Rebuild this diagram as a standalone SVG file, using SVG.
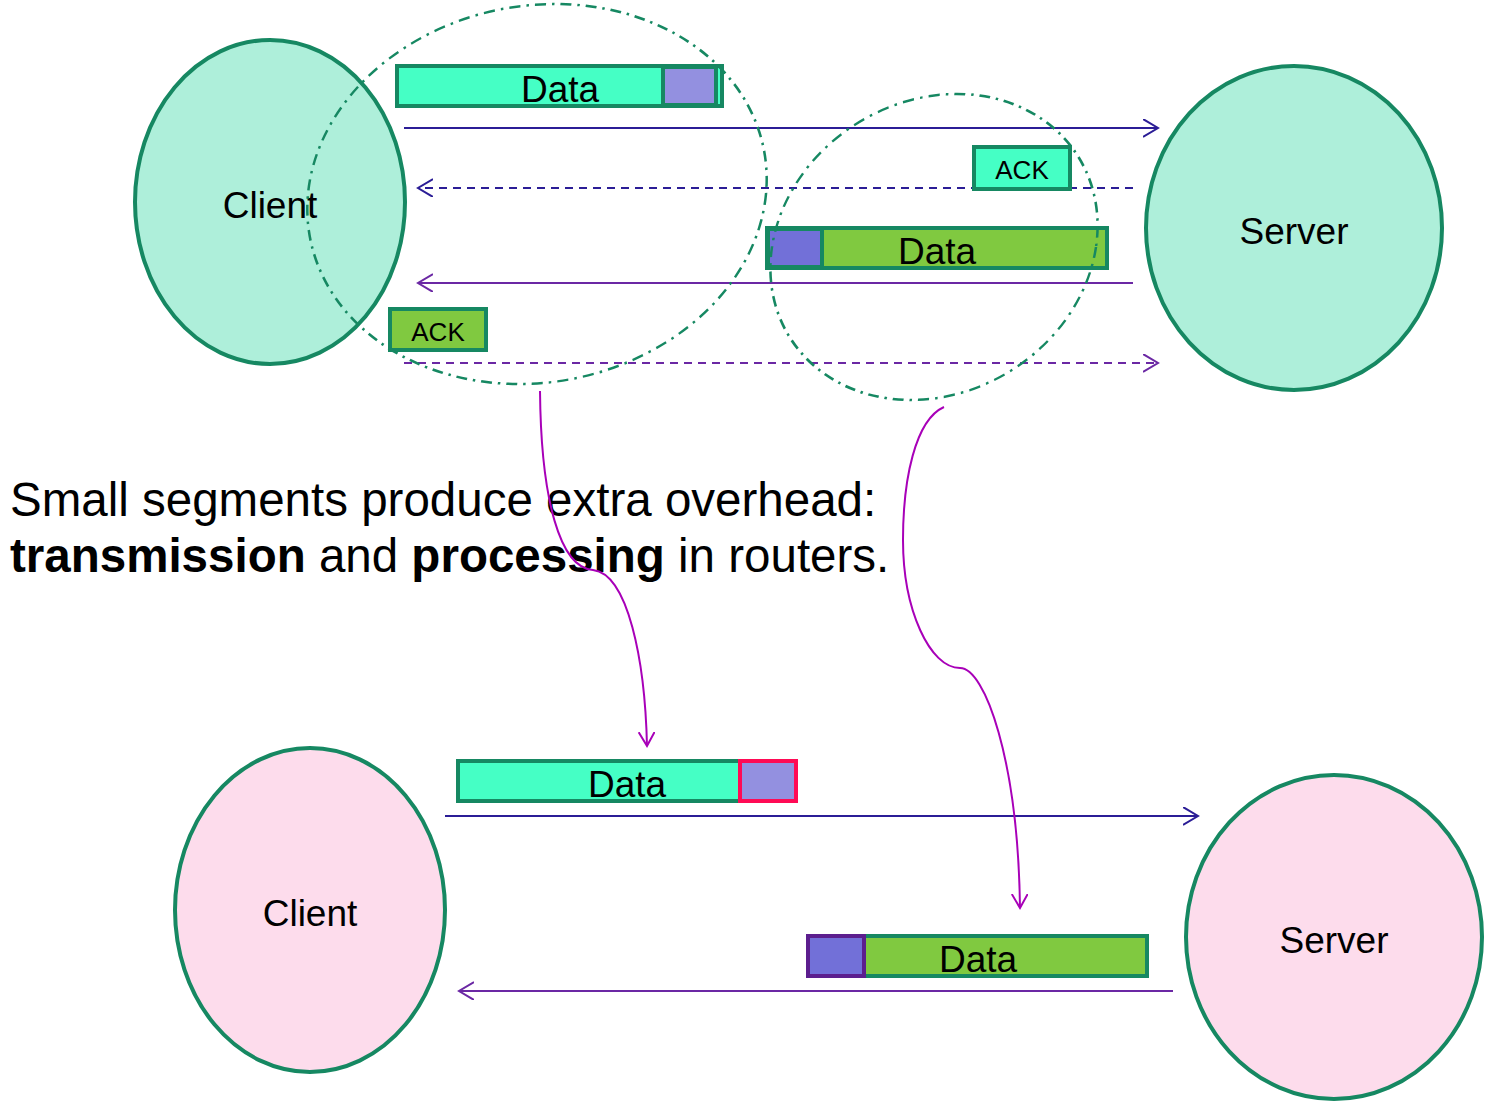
<svg xmlns="http://www.w3.org/2000/svg" width="1494" height="1116" viewBox="0 0 1494 1116">
<style>
.host{stroke:#168862;stroke-width:4}
.top{fill:#aeefda}
.bot{fill:#fddcec}
.lbl{font-family:"Liberation Sans",Arial,sans-serif;fill:#000;text-anchor:middle}
.big{font-size:37px}
.ack{font-size:26px}
.bar{stroke:#168862;stroke-width:4}
.aqua{fill:#45ffc5}
.lime{fill:#80c940}
.lpur{fill:#9390e0}
.dpur{fill:#7270d8}
.group{fill:none;stroke:#168862;stroke-width:2.5;stroke-dasharray:11 6 2.5 6}
.blue{stroke:#2b1d96;stroke-width:2;fill:none}
.purp{stroke:#6b28a4;stroke-width:2;fill:none}
.dash{stroke-dasharray:8 6}
.mag{stroke:#a800b8;stroke-width:2;fill:none}
.msg{font-family:"Liberation Sans",Arial,sans-serif;font-size:48px;fill:#000}
</style>
<defs>
<marker id="ab" markerUnits="userSpaceOnUse" markerWidth="20" markerHeight="20" refX="15" refY="9" orient="auto"><path d="M0,0 L15,9 L0,18" fill="none" stroke="#2b1d96" stroke-width="2"/></marker>
<marker id="ap" markerUnits="userSpaceOnUse" markerWidth="20" markerHeight="20" refX="15" refY="9" orient="auto"><path d="M0,0 L15,9 L0,18" fill="none" stroke="#6b28a4" stroke-width="2"/></marker>
<marker id="am" markerUnits="userSpaceOnUse" markerWidth="20" markerHeight="20" refX="14" refY="8" orient="auto"><path d="M0,0 L14,8 L0,16" fill="none" stroke="#a800b8" stroke-width="2"/></marker>
</defs>

<g id="client-top"><ellipse class="host top" cx="270" cy="202" rx="135" ry="162"/><text class="lbl big" x="270" y="218">Client</text></g>
<g id="server-top"><ellipse class="host top" cx="1294" cy="228" rx="148" ry="162"/><text class="lbl big" x="1294" y="244">Server</text></g>
<g id="client-bottom"><ellipse class="host bot" cx="310" cy="910" rx="135" ry="162"/><text class="lbl big" x="310" y="926">Client</text></g>
<g id="server-bottom"><ellipse class="host bot" cx="1334" cy="937" rx="148" ry="162"/><text class="lbl big" x="1334" y="953">Server</text></g>

<g id="connectors">
<line class="blue" x1="404" y1="128" x2="1158" y2="128" marker-end="url(#ab)"/>
<line class="blue dash" x1="1133" y1="188" x2="418" y2="188" marker-end="url(#ab)"/>
<line class="purp" x1="1133" y1="283" x2="418" y2="283" marker-end="url(#ap)"/>
<line class="purp dash" x1="404" y1="363" x2="1158" y2="363" marker-end="url(#ap)"/>
<line class="blue" x1="445" y1="816" x2="1198" y2="816" marker-end="url(#ab)"/>
<line class="purp" x1="1173" y1="991" x2="459" y2="991" marker-end="url(#ap)"/>
</g>

<g id="data-top-c2s"><rect class="bar aqua" x="397" y="66" width="325" height="40"/><rect class="bar lpur" x="663" y="67" width="53" height="38"/><text class="lbl big" x="560" y="102">Data</text></g>
<g id="ack-top-s2c"><rect class="bar aqua" x="974" y="147" width="96" height="42"/><text class="lbl ack" x="1022" y="179">ACK</text></g>
<g id="data-top-s2c"><rect class="bar lime" x="767" y="228" width="340" height="40"/><rect class="bar dpur" x="768" y="229" width="54" height="38"/><text class="lbl big" x="937" y="264">Data</text></g>
<g id="ack-top-c2s"><rect class="bar lime" x="390" y="309" width="96" height="41"/><text class="lbl ack" x="438" y="341">ACK</text></g>

<g id="data-bottom-c2s"><rect class="bar aqua" x="458" y="761" width="338" height="40"/><rect class="lpur" x="740" y="761" width="56" height="40" stroke="#ff0a55" stroke-width="4"/><text class="lbl big" x="627" y="797">Data</text></g>
<g id="data-bottom-s2c"><rect class="bar lime" x="808" y="936" width="339" height="40"/><rect class="dpur" x="808" y="936" width="56" height="40" stroke="#5c1e8e" stroke-width="4"/><text class="lbl big" x="978" y="972">Data</text></g>

<g id="group-left"><ellipse class="group" cx="0" cy="0" rx="229" ry="190" transform="translate(537,194) skewX(-5.4)"/></g>
<g id="group-right"><ellipse class="group" cx="0" cy="0" rx="162" ry="153" transform="translate(934,247) skewX(-8.5)"/></g>

<g id="caption">
<text class="msg" transform="translate(10,516) scale(0.99,1)">Small segments produce extra overhead:</text>
<text class="msg" transform="translate(10,572) scale(0.99,1)"><tspan font-weight="bold">transmission</tspan> and <tspan font-weight="bold">processing</tspan> in routers.</text>
</g>

<g id="merge-connectors">
<path class="mag" d="M540,391 C541,500 560,568 593,570 C628,574 645,660 647,746" marker-end="url(#am)"/>
<path class="mag" d="M944,407 C915,420 903,480 903,540 C903,610 930,668 960,668 C985,668 1018,760 1020,908" marker-end="url(#am)"/>
</g>
</svg>
